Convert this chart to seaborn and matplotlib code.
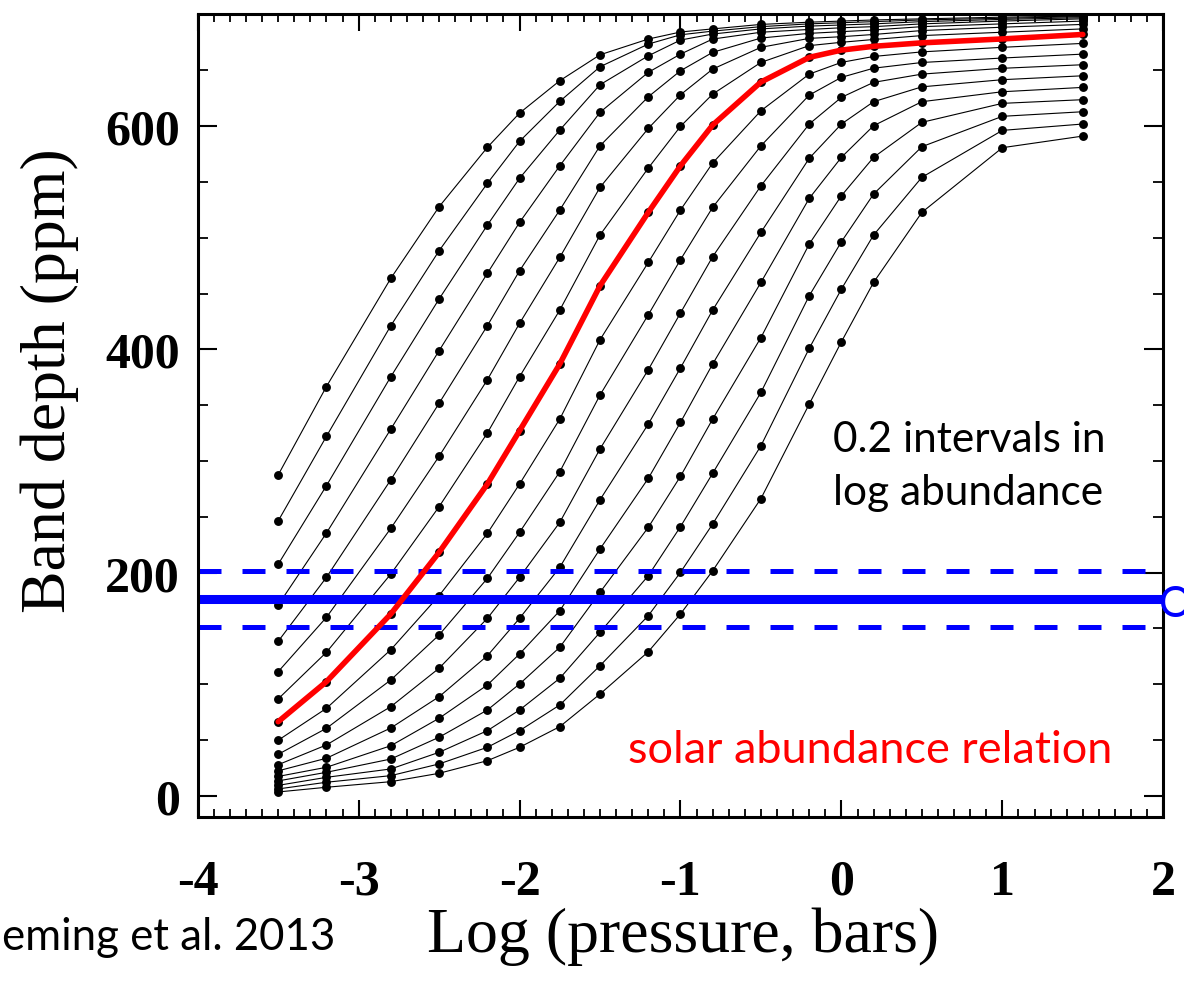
import numpy as np
import pandas as pd
import matplotlib
matplotlib.use("Agg")
import matplotlib.pyplot as plt
from matplotlib.ticker import MultipleLocator
import seaborn as sns

# Pressure grid shared by every model curve (log10 of pressure in bars)
log_pressure = [-3.5, -3.2, -2.8, -2.5, -2.2, -2.0, -1.75, -1.5, -1.2, -1.0,
                -0.8, -0.5, -0.2, 0.0, 0.2, 0.5, 1.0, 1.5]

# Band depth (ppm) for each abundance step, highest abundance first
depth_a00 = [287.5, 366.7, 463.6, 527.7, 580.9, 611.6, 640.6, 663.8, 677.9, 684.2, 687.0, 691.0, 693.0, 694.0, 695.0, 696.0, 697.5, 698.5]
depth_a01 = [246.3, 322.1, 421.2, 488.3, 548.7, 586.3, 622.1, 653.1, 673.4, 681.7, 685.0, 689.0, 691.5, 692.5, 693.5, 695.0, 696.5, 698.0]
depth_a02 = [207.5, 277.9, 375.5, 445.1, 511.3, 553.2, 596.4, 637.0, 662.9, 677.0, 682.4, 687.0, 689.5, 690.5, 691.5, 693.5, 695.5, 697.0]
depth_a03 = [171.0, 235.5, 328.6, 398.8, 468.1, 513.7, 564.4, 612.3, 648.1, 664.4, 677.9, 684.0, 686.5, 688.0, 689.0, 691.5, 694.0, 696.0]
depth_a04 = [138.5, 195.8, 283.2, 351.7, 421.2, 470.4, 524.8, 582.3, 626.2, 649.5, 666.0, 678.8, 683.0, 684.5, 686.0, 689.0, 691.5, 694.0]
depth_a05 = [111.3, 160.0, 239.7, 304.2, 372.8, 423.3, 482.4, 545.1, 597.9, 628.0, 651.0, 670.5, 678.5, 680.0, 682.0, 685.5, 688.5, 691.0]
depth_a06 = [86.9, 128.7, 198.8, 259.1, 325.1, 375.5, 435.2, 502.4, 562.4, 599.7, 628.6, 657.0, 672.0, 675.0, 677.5, 681.0, 684.0, 687.0]
depth_a07 = [66.5, 102.4, 163.0, 218.2, 279.4, 327.1, 386.9, 457.0, 522.7, 564.4, 600.9, 639.4, 661.5, 668.0, 671.4, 674.5, 678.0, 682.0]
depth_a08 = [49.9, 78.5, 131.0, 179.4, 235.2, 279.4, 337.6, 408.6, 477.9, 524.8, 566.9, 613.7, 646.5, 657.0, 662.3, 666.4, 670.5, 674.0]
depth_a09 = [37.3, 60.6, 103.9, 144.2, 194.9, 236.1, 290.4, 359.1, 431.0, 480.3, 527.2, 582.3, 627.7, 643.6, 651.8, 656.9, 660.9, 664.4]
depth_a10 = [28.0, 45.7, 80.0, 114.4, 159.1, 195.8, 245.1, 310.8, 381.8, 432.6, 483.0, 546.5, 601.8, 625.7, 639.1, 646.5, 651.7, 654.9]
depth_a11 = [22.5, 33.8, 60.9, 88.9, 125.6, 159.1, 204.8, 265.3, 333.1, 383.4, 435.2, 504.8, 571.1, 601.8, 621.8, 635.1, 641.5, 645.0]
depth_a12 = [17.5, 25.7, 45.0, 69.6, 99.4, 127.2, 165.9, 221.2, 284.5, 334.6, 386.9, 460.0, 535.2, 572.0, 600.3, 621.8, 630.7, 634.6]
depth_a13 = [13.5, 21.2, 33.1, 52.6, 77.0, 100.3, 133.2, 182.4, 240.6, 286.3, 337.6, 410.6, 494.3, 537.6, 572.0, 603.3, 620.3, 623.6]
depth_a14 = [9.5, 16.7, 24.2, 39.1, 58.5, 77.0, 105.4, 146.6, 197.3, 241.2, 289.0, 361.5, 448.0, 496.4, 539.1, 581.5, 608.7, 612.8]
depth_a15 = [6.3, 12.3, 18.2, 28.7, 43.6, 58.5, 81.5, 116.7, 161.5, 200.3, 243.6, 313.7, 400.9, 454.0, 502.4, 554.1, 596.1, 601.8]
depth_a16 = [3.6, 7.8, 12.8, 20.3, 31.6, 43.6, 62.1, 91.3, 129.2, 163.0, 201.7, 266.4, 351.0, 406.8, 460.0, 522.7, 580.6, 591.0]

model_curves = [depth_a00, depth_a01, depth_a02, depth_a03, depth_a04, depth_a05,
                depth_a06, depth_a07, depth_a08, depth_a09, depth_a10, depth_a11,
                depth_a12, depth_a13, depth_a14, depth_a15, depth_a16]
solar_curve = depth_a07          # solar abundance relation

# Observed band depth and its 1-sigma range (ppm)
observed_depth = 176.4
observed_low = 151.3
observed_high = 201.8

x_ticks = [-4, -3, -2, -1, 0, 1, 2]
y_ticks = [0, 200, 400, 600]

W, H, DPI = 1184, 987, 100

sns.set_theme(style="ticks")
plt.rcParams["font.family"] = ["Liberation Serif", "DejaVu Serif"]
plt.rcParams["axes.unicode_minus"] = False

fig = plt.figure(figsize=(W / DPI, H / DPI), dpi=DPI, facecolor="white")
ax_left, ax_right, ax_top, ax_bottom = 197.7, 1163.3, 14.7, 818.3
ax = fig.add_axes([ax_left / W, 1 - ax_bottom / H,
                   (ax_right - ax_left) / W, (ax_bottom - ax_top) / H])
ax.set_facecolor("white")

rows = []
for k, curve in enumerate(model_curves):
    for lp, d in zip(log_pressure, curve):
        rows.append({"curve": k, "log_p": lp, "depth": d})
df = pd.DataFrame(rows)

sns.lineplot(data=df, x="log_p", y="depth", units="curve", estimator=None,
             color="black", linewidth=0.8, marker="o", markersize=6.4,
             markeredgewidth=0, sort=False, legend=False, ax=ax, zorder=2)

# Observed depth with its uncertainty band
ax.axhline(observed_depth, color="#0000ff", linewidth=6.5, zorder=2.5)
for yv in (observed_low, observed_high):
    ax.axhline(yv, color="#0000ff", linewidth=3.6, dashes=(4.6, 4.2), zorder=2.5)

sns.lineplot(x=log_pressure, y=solar_curve, color="#ff0000", linewidth=4.0,
             sort=False, ax=ax, zorder=3)

ax.set_xlim(-4, 2)
ax.set_ylim(-19.1, 700.6)
ax.set_xticks(x_ticks)
ax.set_yticks(y_ticks)
ax.xaxis.set_minor_locator(MultipleLocator(0.1))
ax.yaxis.set_minor_locator(MultipleLocator(50))
ax.set_xlabel("")
ax.set_ylabel("")

for side in ("left", "right", "top", "bottom"):
    ax.spines[side].set_visible(True)
    ax.spines[side].set_linewidth(2.2)
    ax.spines[side].set_color("black")

ax.tick_params(axis="x", which="major", direction="in", length=12, width=1.5,
               top=True, bottom=True, pad=30, labelsize=36, color="black")
ax.tick_params(axis="x", which="minor", direction="in", length=5.5, width=1.3,
               top=True, bottom=True, color="black")
ax.tick_params(axis="y", which="major", direction="in", length=14, width=1.5,
               left=True, right=True, pad=12.7, labelsize=36, color="black")
ax.tick_params(axis="y", which="minor", direction="in", length=7.5, width=1.3,
               left=True, right=True, color="black")
for lab in ax.get_xticklabels() + ax.get_yticklabels():
    lab.set_fontweight("bold")
    lab.set_color("black")


def fpos(px, py):
    return px / W, 1 - py / H


fig.text(*fpos(50, 381), "Band depth (ppm)", rotation=90, ha="center",
         va="center", fontsize=46, color="black")
fig.text(*fpos(683, 937), "Log (pressure, bars)", ha="center", va="center",
         fontsize=46, color="black")

sans = ["Lato", "DejaVu Sans"]
fig.text(*fpos(833, 452), "0.2 intervals in", ha="left", va="baseline",
         fontsize=30.5, color="black", family=sans)
fig.text(*fpos(833, 505), "log abundance", ha="left", va="baseline",
         fontsize=30.5, color="black", family=sans)
fig.text(*fpos(628, 763), "solar abundance relation", ha="left", va="baseline",
         fontsize=32.5, color="#ff0000", family=sans)
fig.text(*fpos(1159, 617), "O", ha="left", va="baseline",
         fontsize=30, color="#0000ff", family=sans)
fig.text(*fpos(2, 950), "eming et al. 2013", ha="left", va="baseline",
         fontsize=31.5, color="black", family=sans)

fig.savefig("out.png", dpi=DPI, facecolor="white")
